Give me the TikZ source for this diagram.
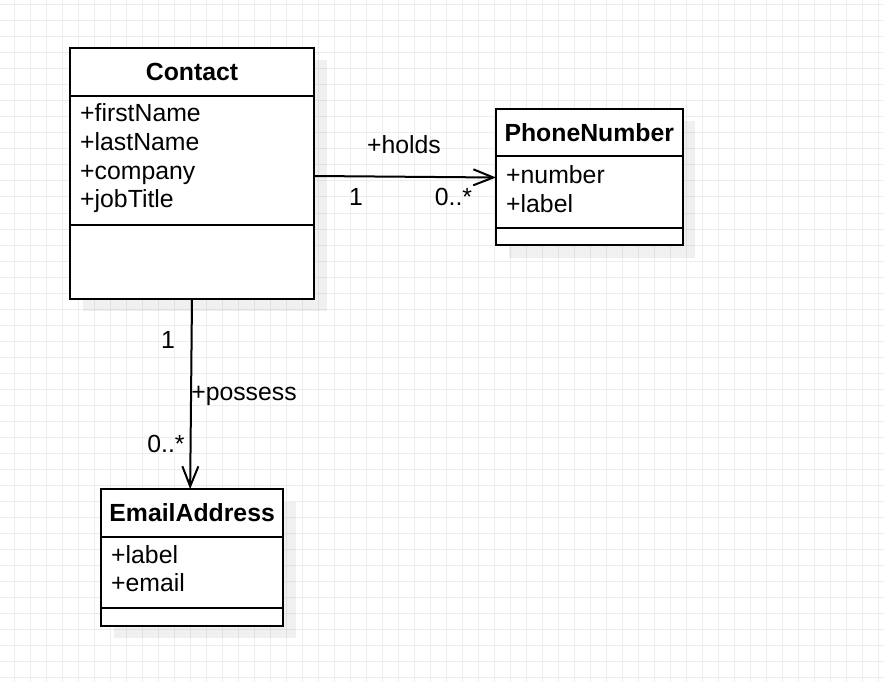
\documentclass[tikz,border=0pt]{standalone}
\usepackage{fontspec}
\setmainfont{Liberation Sans}
\usetikzlibrary{arrows.meta}
\definecolor{gridc}{HTML}{EDEDED}
\begin{document}
\begin{tikzpicture}[x=1pt,y=-1pt,
  umlbox/.style={draw=black, line width=2pt, fill=white, rectangle, inner sep=0pt, outer sep=0pt, anchor=north west},
  hdr/.style={umlbox, font=\fontsize{24.8pt}{29.8pt}\selectfont\bfseries},
  attr/.style={anchor=base west, inner sep=0pt, font=\fontsize{24.8pt}{29.8pt}\selectfont},
  lbl/.style={anchor=base, inner sep=0pt, font=\fontsize{24.8pt}{29.8pt}\selectfont},
  shade/.style={fill=black, opacity=0.06},
  assoc/.style={line width=2pt, -{Straight Barb[length=20pt,width=16pt]}},
]
\useasboundingbox (0,0) rectangle (884,682);
\fill[white] (0,0) rectangle (884,682);
\foreach \x in {14,30,...,878} \draw[gridc, line width=1pt] (\x,0) -- (\x,682);
\foreach \y in {5,21,...,677} \draw[gridc, line width=1pt] (0,\y) -- (884,\y);

% shadows
\fill[shade] (82.5,60.5) rectangle (326.5,311);
\fill[shade] (508.5,121.5) rectangle (695,257.8);
\fill[shade] (113.5,501.5) rectangle (295.8,638.2);

% Contact
\node[hdr, minimum width=244pt, minimum height=48pt] (contact) at (70,48) {Contact};
\node[umlbox, minimum width=244pt, minimum height=129pt] (contactattr) at (70,96) {};
\node[umlbox, minimum width=244pt, minimum height=73.5pt] (contactops) at (70,225) {};
\node[attr] (cfn) at (80,121.5) {+firstName};
\node[attr] (cln) at (80,150.3) {+lastName};
\node[attr] (cco) at (80,179.1) {+company};
\node[attr] (cjt) at (80,207.9) {+jobTitle};

% PhoneNumber
\node[hdr, minimum width=186.5pt, minimum height=47pt] (phone) at (496,109) {PhoneNumber};
\node[umlbox, minimum width=186.5pt, minimum height=72.3pt] (phoneattr) at (496,156) {};
\node[umlbox, minimum width=186.5pt, minimum height=17pt] (phoneops) at (496,228.3) {};
\node[attr] (pnum) at (506,183.3) {+number};
\node[attr] (plab) at (506,212) {+label};

% EmailAddress
\node[hdr, minimum width=182.3pt, minimum height=47.7pt] (email) at (101,489) {EmailAddress};
\node[umlbox, minimum width=182.3pt, minimum height=71.6pt] (emailattr) at (101,536.7) {};
\node[umlbox, minimum width=182.3pt, minimum height=17.4pt] (emailops) at (101,608.3) {};
\node[attr] (elab) at (111,563) {+label};
\node[attr] (eem) at (111,591.8) {+email};

% connectors
\draw[assoc] ([yshift=-15.5pt]contactattr.east) -- ([yshift=14.65pt]phoneattr.west);
\draw[assoc] (contactops.south) -- ([xshift=-2pt]email.north);

% labels
\node[lbl] (holds) at (404,154) {+holds};
\node[lbl] (m1) at (356,205.3) {1};
\node[lbl] (m2) at (453.5,205.3) {0..*};
\node[lbl] (m3) at (168,348.3) {1};
\node[lbl] (poss) at (244,400) {+possess};
\node[lbl] (m4) at (166,452.3) {0..*};
\end{tikzpicture}
\end{document}
